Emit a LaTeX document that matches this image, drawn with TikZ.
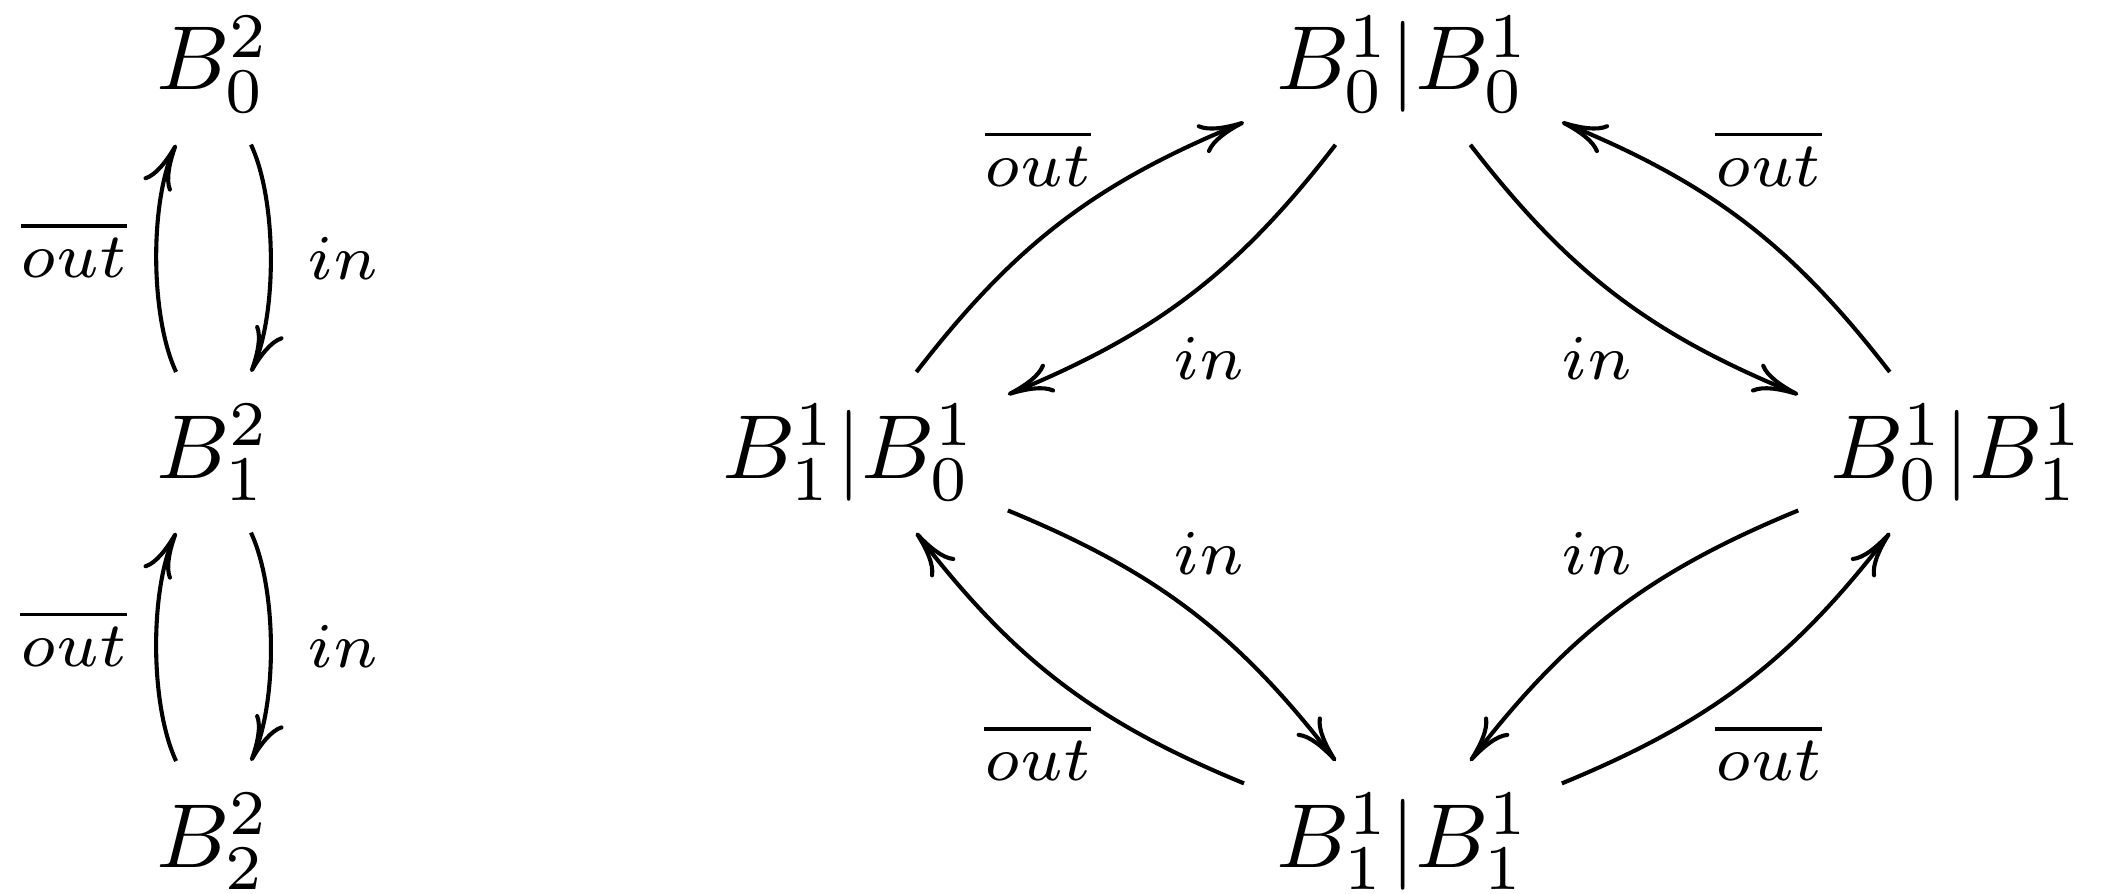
\documentclass[tikz,border=0pt]{standalone}
\usetikzlibrary{arrows.meta}

\begin{document}
\begin{tikzpicture}[
    etat/.style={anchor=base, inner sep=0.333em},
    lab/.style={font=\fontsize{7.5}{9}\selectfont, inner sep=0.333em},
    fl/.style={->, line width=0.45pt},
    >={To[length=5pt,width=3.4pt]}
  ]
  \useasboundingbox (0,0) rectangle (8.17,-3.455);

  % Lignes de base des trois rangees
  \def\ya{-0.348}
  \def\yb{-1.849}
  \def\yc{-3.354}

  % ==============================================
  % Chaine de gauche : B^2_0, B^2_1, B^2_2
  % ==============================================
  \node[etat] (C0) at (0.826, \ya) {$B^2_0$};
  \node[etat] (C1) at (0.826, \yb) {$B^2_1$};
  \node[etat] (C2) at (0.826, \yc) {$B^2_2$};

  \foreach \h/\b in {0/1, 1/2} {
    \draw[fl] (C\b) to[bend left=25, looseness=0.7] node[lab, left=-0.3pt, yshift=1pt] {$\overline{out}$} (C\h);
    \draw[fl] (C\h) to[bend left=25, looseness=0.7] node[lab, right=0.5pt] {$in$} (C\b);
  }

  % ==============================================
  % Losange de droite
  % ==============================================
  \node[etat] (H) at (5.427, \ya) {$B^1_0|B^1_0$};
  \node[etat] (G) at (3.284, \yb) {$B^1_1|B^1_0$};
  \node[etat] (D) at (7.571, \yb) {$B^1_0|B^1_1$};
  \node[etat] (Bs) at (5.427, \yc) {$B^1_1|B^1_1$};

  % Moitie haute
  \draw[fl] (G) to[bend left=15] node[lab, above=0.4pt, xshift=-2.6pt] {$\overline{out}$} (H);
  \draw[fl] (H) to[bend left=15] node[lab, below=1.2pt, xshift=2pt] {$in$} (G);
  \draw[fl] (H) to[bend right=15] node[lab, below=1.2pt, xshift=-2pt] {$in$} (D);
  \draw[fl] (D) to[bend right=15] node[lab, above=0.4pt, xshift=2.6pt] {$\overline{out}$} (H);

  % Moitie basse
  \draw[fl] (G) to[bend left=15] node[lab, above=0.5pt, xshift=2pt] {$in$} (Bs);
  \draw[fl] (Bs) to[bend left=15] node[lab, below=0.9pt, xshift=-2.6pt] {$\overline{out}$} (G);
  \draw[fl] (D) to[bend right=15] node[lab, above=0.5pt, xshift=-2pt] {$in$} (Bs);
  \draw[fl] (Bs) to[bend right=15] node[lab, below=0.9pt, xshift=2.6pt] {$\overline{out}$} (D);

\end{tikzpicture}
\end{document}
